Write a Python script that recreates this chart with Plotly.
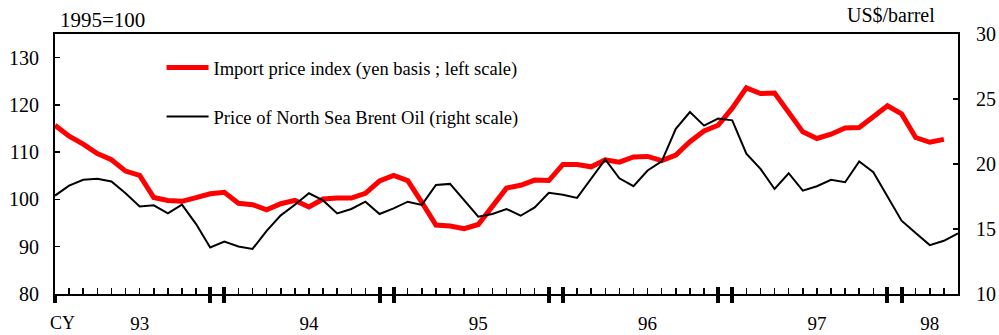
import plotly.graph_objects as go

# ---- data (monthly, Jan 1993 .. ) ----
import_price_index = [
    115.7, 113.4, 111.7, 109.7, 108.4, 106.0, 105.1, 100.4, 99.8, 99.6, 100.4, 101.2,
    101.5, 99.2, 98.9, 97.8, 99.1, 99.8, 98.4, 100.1, 100.3, 100.3, 101.3, 103.9,
    105.1, 104.0, 99.4, 94.6, 94.4, 93.8, 94.7, 98.5, 102.4, 103.0, 104.1, 104.0,
    107.4, 107.4, 106.9, 108.4, 107.9, 109.0, 109.1, 108.2, 109.4, 112.2, 114.5, 115.7,
    119.3, 123.6, 122.4, 122.5, 118.4, 114.3, 112.9, 113.8, 115.1, 115.2, 117.5, 119.8,
    118.1, 113.1, 112.1, 112.7,
]
brent_price = [
    17.57, 18.34, 18.78, 18.86, 18.65, 17.75, 16.74, 16.82, 16.20, 16.87, 15.38, 13.58,
    14.04, 13.65, 13.47, 14.86, 16.05, 16.86, 17.75, 17.20, 16.20, 16.54, 17.10, 16.15,
    16.59, 17.10, 16.85, 18.39, 18.47, 17.18, 15.95, 16.15, 16.54, 16.02, 16.66, 17.78,
    17.64, 17.39, 18.86, 20.35, 18.90, 18.29, 19.50, 20.20, 22.70, 24.00, 22.95, 23.49,
    23.36, 20.79, 19.63, 18.08, 19.29, 17.95, 18.29, 18.78, 18.60, 20.19, 19.37, 17.49,
    15.64, 14.69, 13.76, 14.09, 14.66,
]
year_labels = ["93", "94", "95", "96", "97", "98"]
year_label_pos = [6, 18, 30, 42, 54, 62]          # month index of label
year_boundary_ticks = [0, 11, 12, 23, 24, 35, 36, 47, 48, 59, 60]
month_ticks = list(range(64))
left_ticks = [80, 90, 100, 110, 120, 130]
right_ticks = [10, 15, 20, 25, 30]

FONT = "Liberation Serif"
XR = [0, 64]

fig = go.Figure()
fig.add_trace(go.Scatter(
    x=list(range(len(import_price_index))), y=import_price_index, mode="lines",
    line=dict(color="#ff0000", width=5),
    name="Import price index (yen basis ; left scale)", legend="legend"))
fig.add_trace(go.Scatter(
    x=list(range(len(brent_price))), y=brent_price, mode="lines",
    line=dict(color="#000000", width=2), yaxis="y2",
    name="Price of North Sea Brent Oil (right scale)", legend="legend2"))

common_x = dict(range=XR, showgrid=False, zeroline=False, fixedrange=True,
                automargin=False)
fig.update_layout(
    width=999, height=335,
    margin=dict(l=55, r=41, t=34, b=41),
    paper_bgcolor="white", plot_bgcolor="white",
    font=dict(family=FONT, size=20, color="black"),
    xaxis=dict(**common_x, showline=True, linecolor="black", linewidth=2,
               tickmode="array", tickvals=month_ticks, ticks="inside", ticklen=6,
               tickwidth=1.5, tickcolor="black", showticklabels=False),
    xaxis2=dict(**common_x, overlaying="x", anchor="y", side="bottom", showline=False,
                tickmode="array", tickvals=year_boundary_ticks, ticks="inside",
                ticklen=7, tickwidth=4, tickcolor="black", showticklabels=False),
    xaxis3=dict(**common_x, overlaying="x", anchor="y", side="bottom", showline=False,
                tickmode="array", tickvals=year_boundary_ticks, ticks="outside",
                ticklen=8, tickwidth=4, tickcolor="black", showticklabels=False),
    xaxis4=dict(**common_x, overlaying="x", anchor="y", side="bottom", showline=False,
                tickmode="array", tickvals=year_label_pos, ticktext=year_labels,
                ticks="", ticklabelstandoff=16, tickfont=dict(size=19)),
    xaxis5=dict(**common_x, overlaying="x", anchor="y", side="top", showline=True,
                linecolor="black", linewidth=2, ticks="", showticklabels=False),
    yaxis=dict(range=[80, 135], showgrid=False, zeroline=False, showline=True,
               linecolor="black", linewidth=2, tickmode="array", tickvals=left_ticks,
               ticks="inside", ticklen=5, tickwidth=1.5, tickcolor="black",
               ticklabelstandoff=10, fixedrange=True, automargin=False),
    yaxis2=dict(range=[10, 30], overlaying="y", side="right", showgrid=False,
                zeroline=False, showline=True, linecolor="black", linewidth=2,
                tickmode="array", tickvals=right_ticks, ticks="inside", ticklen=5,
                tickwidth=1.5, tickcolor="black", ticklabelstandoff=12,
                fixedrange=True, automargin=False),
    legend=dict(x=0.118, y=0.869, xanchor="left", yanchor="middle",
                bgcolor="rgba(0,0,0,0)", font=dict(size=18.5), itemwidth=42),
    legend2=dict(x=0.118, y=0.681, xanchor="left", yanchor="middle",
                 bgcolor="rgba(0,0,0,0)", font=dict(size=18.5), itemwidth=42),
    showlegend=True,
    annotations=[
        dict(text="1995=100", xref="paper", yref="paper", x=(102 - 55) / 903,
             y=(294 - 20) / 260, showarrow=False, font=dict(size=21),
             xanchor="center", yanchor="middle"),
        dict(text="US$/barrel", xref="paper", yref="paper", x=(891 - 55) / 903,
             y=(294 - 15) / 260, showarrow=False, font=dict(size=20),
             xanchor="center", yanchor="middle"),
        dict(text="CY", xref="paper", yref="paper", x=(62 - 55) / 903,
             y=(294 - 323) / 260, showarrow=False, font=dict(size=18),
             xanchor="center", yanchor="middle"),
    ],
)
# attach the helper axes so they render
for ax in ["x2", "x3", "x4", "x5"]:
    fig.add_trace(go.Scatter(x=[None], y=[None], xaxis=ax, showlegend=False,
                             hoverinfo="skip"))

fig.write_html(
    "out.html",
    config={"displayModeBar": False, "staticPlot": True},
    post_script="document.body.style.margin='0';document.body.style.overflow='hidden';",
)
